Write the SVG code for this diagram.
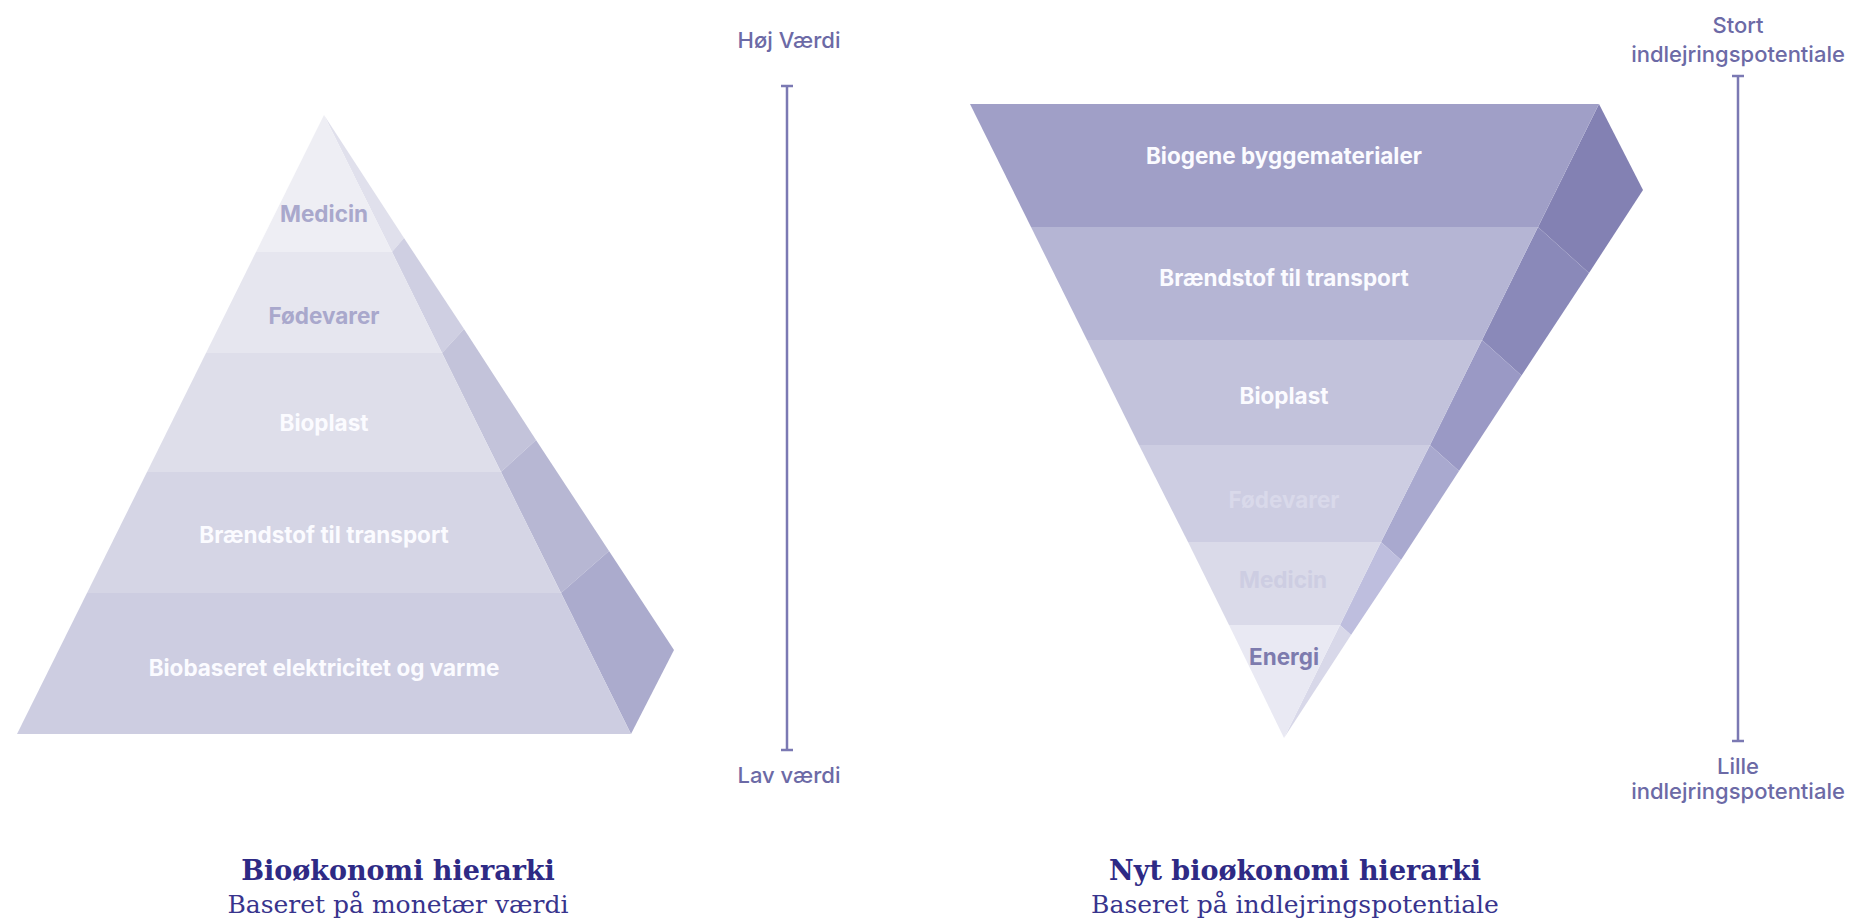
<svg xmlns="http://www.w3.org/2000/svg" width="1849" height="920" viewBox="0 0 1849 920">
  <style>
    .lbl { font-family: Inter, "Liberation Sans", sans-serif; font-weight: 700; font-size: 22.5px; text-anchor: middle; }
    .scale { font-family: Inter, "Liberation Sans", sans-serif; font-weight: 500; font-size: 22px; fill: #6c6aa6; text-anchor: middle; }
    .bar { stroke: #7b79b3; stroke-width: 2.5; fill: none; }
    .cap-title { font-family: "DejaVu Serif", "Liberation Serif", serif; font-weight: 700; font-size: 27px; fill: #2e2a85; text-anchor: middle; }
    .cap-sub { font-family: "DejaVu Serif", "Liberation Serif", serif; font-weight: 400; font-size: 25px; fill: #38348d; text-anchor: middle; }
  </style>

  <rect width="1849" height="920" fill="#ffffff"/>

  <!-- Left pyramid: monetary value hierarchy -->
  <g id="pyramid-left">
    <g id="left-side">
      <polygon points="324,115 404,238 392,252" fill="#e0e0ec"/>
      <polygon points="392,252 404,238 464,329 442,353" fill="#cfcfe2"/>
      <polygon points="442,353 464,329 536,440 501,472" fill="#c3c3da"/>
      <polygon points="501,472 536,440 609,551 561,593" fill="#b7b7d3"/>
      <polygon points="561,593 609,551 674,650 631,734" fill="#ababcd"/>
    </g>
    <g id="left-medicin">
      <polygon points="324,115 392,252 256,252" fill="#eeeef4"/>
      <text class="lbl" x="324" y="222" fill="#a9a8cc">Medicin</text>
    </g>
    <g id="left-foedevarer">
      <polygon points="256,252 392,252 442,353 206,353" fill="#e6e6ef"/>
      <text class="lbl" x="324" y="324" fill="#a9a8cc">Fødevarer</text>
    </g>
    <g id="left-bioplast">
      <polygon points="206,353 442,353 501,472 147,472" fill="#dedeea"/>
      <text class="lbl" x="324" y="431" fill="#fbfbff">Bioplast</text>
    </g>
    <g id="left-braendstof">
      <polygon points="147,472 501,472 561,593 87,593" fill="#d5d5e5"/>
      <text class="lbl" x="324" y="543" fill="#fbfbff">Brændstof til transport</text>
    </g>
    <g id="left-biobaseret">
      <polygon points="87,593 561,593 631,734 17,734" fill="#cdcde1"/>
      <text class="lbl" x="324" y="676" fill="#fbfbff">Biobaseret elektricitet og varme</text>
    </g>
  </g>

  <!-- Right pyramid (inverted): embedding potential hierarchy -->
  <g id="pyramid-right">
    <g id="right-side">
      <polygon points="1599,104 1643,190 1589,273 1538,227" fill="#8381b3"/>
      <polygon points="1538,227 1589,273 1521.5,375.5 1482,340" fill="#8a89b9"/>
      <polygon points="1482,340 1521.5,375.5 1459,471 1430,445" fill="#9a99c5"/>
      <polygon points="1430,445 1459,471 1401,560 1381,542" fill="#a9a9cf"/>
      <polygon points="1381,542 1401,560 1351,635 1340,625" fill="#bebede"/>
      <polygon points="1340,625 1351,635 1284,738" fill="#d8d8e9"/>
    </g>
    <g id="right-biogene">
      <polygon points="970,104 1599,104 1538,227 1031,227" fill="#a09fc7"/>
      <text class="lbl" x="1284" y="164" fill="#fbfbff">Biogene byggematerialer</text>
    </g>
    <g id="right-braendstof">
      <polygon points="1031,227 1538,227 1482,340 1087,340" fill="#b5b5d4"/>
      <text class="lbl" x="1284" y="286" fill="#fbfbff">Brændstof til transport</text>
    </g>
    <g id="right-bioplast">
      <polygon points="1087,340 1482,340 1430,445 1139,445" fill="#c2c2db"/>
      <text class="lbl" x="1284" y="404" fill="#fbfbff">Bioplast</text>
    </g>
    <g id="right-foedevarer">
      <polygon points="1139,445 1430,445 1381,542 1188,542" fill="#cdcde2"/>
      <text class="lbl" x="1284" y="508" fill="#d9d9ea">Fødevarer</text>
    </g>
    <g id="right-medicin">
      <polygon points="1188,542 1381,542 1340,625 1229,625" fill="#dadae9"/>
      <text class="lbl" x="1283" y="588" fill="#cdcde2">Medicin</text>
    </g>
    <g id="right-energi">
      <polygon points="1229,625 1340,625 1284,738" fill="#e9e9f3"/>
      <text class="lbl" x="1284" y="665" fill="#7d7bae">Energi</text>
    </g>
  </g>

  <!-- Scale bars -->
  <g id="connectors">
    <g id="scale-left">
      <line class="bar" x1="787" y1="86" x2="787" y2="750"/>
      <line class="bar" x1="781" y1="86" x2="793" y2="86"/>
      <line class="bar" x1="781" y1="750" x2="793" y2="750"/>
    </g>
    <g id="scale-right">
      <line class="bar" x1="1738" y1="76" x2="1738" y2="741"/>
      <line class="bar" x1="1732" y1="76" x2="1744" y2="76"/>
      <line class="bar" x1="1732" y1="741" x2="1744" y2="741"/>
    </g>
  </g>

  <g id="scale-left-labels">
    <text class="scale" x="789" y="48">Høj Værdi</text>
    <text class="scale" x="789" y="783">Lav værdi</text>
  </g>
  <g id="scale-right-labels">
    <text class="scale" x="1738" y="33">Stort</text>
    <text class="scale" x="1738" y="62">indlejringspotentiale</text>
    <text class="scale" x="1738" y="774">Lille</text>
    <text class="scale" x="1738" y="799">indlejringspotentiale</text>
  </g>

  <!-- Captions -->
  <g id="caption-left">
    <text class="cap-title" x="398" y="880">Bioøkonomi hierarki</text>
    <text class="cap-sub" x="398" y="913">Baseret på monetær værdi</text>
  </g>
  <g id="caption-right">
    <text class="cap-title" x="1295" y="880">Nyt bioøkonomi hierarki</text>
    <text class="cap-sub" x="1295" y="913">Baseret på indlejringspotentiale</text>
  </g>
</svg>
